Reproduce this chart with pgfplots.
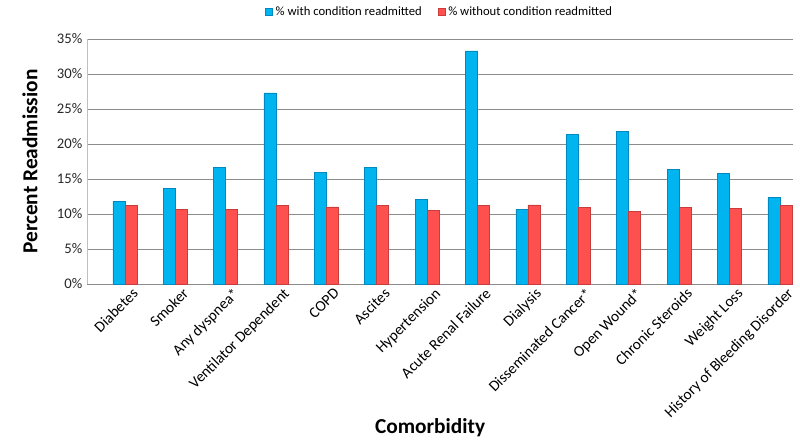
\documentclass[border=0pt]{standalone}
\usepackage{pgfplots}
\pgfplotsset{compat=1.18}
\usepackage{fontspec}
\setmainfont{Carlito}
\definecolor{cblue}{HTML}{00B4F0}
\definecolor{cbluedark}{HTML}{0088C0}
\definecolor{cred}{HTML}{FF5050}
\definecolor{creddark}{HTML}{C83C3C}
\definecolor{gridc}{HTML}{8C8C8C}
\begin{document}
\begin{tikzpicture}
\useasboundingbox (-65.25pt,-120.75pt) rectangle (534.75pt,213pt);
\begin{axis}[
  at={(0pt,0pt)}, anchor=south west,
  scale only axis, width=529.5pt, height=183.75pt,
  ymin=0, ymax=35, ytick={0,5,...,35},
  xmin=-0.75, xmax=13.26,
  xtick={0,...,13},
  xticklabels={Diabetes,Smoker,Any dyspnea*,Ventilator Dependent,COPD,Ascites,Hypertension,Acute Renal Failure,Dialysis,Disseminated Cancer*,Open Wound*,Chronic Steroids,Weight Loss,History of Bleeding Disorder},
  xticklabel style={rotate=45, anchor=north east, font=\fontsize{11.5}{13}\selectfont, inner sep=1pt, yshift=-4pt, xshift=3pt},
  yticklabel={\pgfmathprintnumber{\tick}\%},
  yticklabel style={font=\fontsize{11}{13}\selectfont, color=black!85},
  /pgf/number format/assume math mode=true,
  major tick length=0pt,
  axis x line*=bottom, axis y line*=left,
  x axis line style={draw=gridc, -}, y axis line style={draw=black!25, -},
  ymajorgrids, grid style={gridc, line width=0.6pt},
  ybar=0pt, bar width=9pt,
  ylabel={Percent Readmission},
  ylabel style={at={(axis description cs:-0.0808,0.5)}, anchor=center, font=\bfseries\fontsize{16}{19}\selectfont},
  xlabel={Comorbidity},
  xlabel style={at={(axis description cs:0.486,0)}, yshift=-108pt, anchor=center, font=\bfseries\fontsize{16}{19}\selectfont},
  legend style={at={(0.5,1.11)}, anchor=center, legend columns=2, draw=none, font=\fontsize{9.5}{11}\selectfont, /tikz/every even column/.append style={column sep=10pt}},
  legend image code/.code={\fill[#1] (0pt,-2.7pt) rectangle (5.4pt,2.7pt);},
  clip=false,
]
\addplot[fill=cblue, draw=cbluedark, line width=0.4pt] coordinates {
(0,11.8) (1,13.7) (2,16.7) (3,27.3) (4,15.9) (5,16.7) (6,12.1) (7,33.3) (8,10.7) (9,21.4) (10,21.8) (11,16.4) (12,15.8) (13,12.4)};
\addplot[fill=cred, draw=creddark, line width=0.4pt] coordinates {
(0,11.2) (1,10.7) (2,10.7) (3,11.2) (4,11.0) (5,11.2) (6,10.5) (7,11.2) (8,11.3) (9,10.9) (10,10.4) (11,10.9) (12,10.8) (13,11.2)};
\legend{\% with condition readmitted, \% without condition readmitted}
\end{axis}
\end{tikzpicture}
\end{document}
